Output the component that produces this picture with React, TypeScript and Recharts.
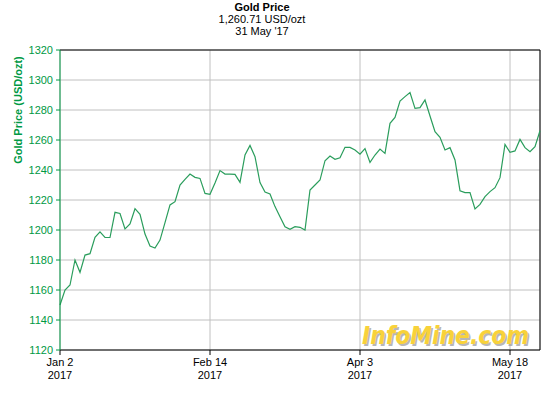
import React from 'react';
import {
    LineChart,
    Line,
    XAxis,
    YAxis,
    CartesianGrid,
    ReferenceLine
} from 'recharts';

// Daily gold price, Jan 2 2017 .. May 31 2017 (trading days)
const prices: number[] = [
    1150, 1160, 1163.3, 1180, 1171.8, 1183.3, 1184.2, 1195.1, 1198.7, 1195.1,
    1195, 1211.8, 1211, 1200.7, 1204, 1214.2, 1210.4, 1197.3, 1189.3, 1188,
    1193.3, 1204.9, 1216.7, 1218.9, 1230, 1233.8, 1237.3, 1235.1, 1234.4, 1224.4,
    1223.8, 1231.4, 1239.6, 1237.3, 1237.3, 1237.1, 1231.8, 1250, 1256.4, 1248.9,
    1231.6, 1225.3, 1224, 1215.6, 1208.9, 1202.2, 1200.4, 1202.2, 1201.8, 1200,
    1226.7, 1230, 1233.3, 1246.2, 1249.3, 1247.1, 1248.2, 1255.1, 1255.1, 1253.3,
    1250.5, 1254.3, 1245.1, 1250, 1254, 1251.1, 1271.1, 1275.1, 1286, 1288.9,
    1291.6, 1281.1, 1281.6, 1286.7, 1276, 1265.6, 1261.8, 1253.3, 1254.9, 1246.7,
    1226.2, 1224.9, 1224.9, 1214, 1217.1, 1222.2, 1225.6, 1228.2, 1234.9, 1257.1,
    1251.8, 1252.7, 1260.4, 1254.9, 1252.2, 1255.6, 1266.2
];

const tickIndexes = [0, 30, 60, 90];
const tickDates = ['Jan 2', 'Feb 14', 'Apr 3', 'May 18'];
const tickYear = '2017';
const priceTicks = [1120, 1140, 1160, 1180, 1200, 1220, 1240, 1260, 1280, 1300, 1320];

const data = prices.map((price, idx) => ({ idx, price }));

const FONT = 'Arial, "Liberation Sans", sans-serif';
const GREEN = '#009944';

const DateTick = ({ x, y, payload }: any) => {
    const pos = tickIndexes.indexOf(payload.value);
    return (
        <text x={x} y={y} textAnchor="middle" fill="#000" fontSize={11} fontFamily={FONT}>
            <tspan x={x} dy={11}>{tickDates[pos]}</tspan>
            <tspan x={x} dy={13}>{tickYear}</tspan>
        </text>
    );
};

const App: React.FC = () => {
    return (
        <div style={{ position: 'absolute', left: 0, top: 0, width: 560, height: 400, fontFamily: FONT }}>
            {/* Title block */}
            <div style={{ position: 'absolute', left: 162, top: 1, width: 200, textAlign: 'center', fontSize: 11, lineHeight: '12px', color: '#000' }}>
                <div style={{ fontWeight: 700 }}>Gold Price</div>
                <div>1,260.71 USD/ozt</div>
                <div>31 May '17</div>
            </div>

            <LineChart
                width={560}
                height={400}
                data={data}
                margin={{ top: 50, right: 20, bottom: 0, left: 0 }}
            >
                <CartesianGrid stroke="#c0c0c0" strokeWidth={1} />

                <XAxis
                    dataKey="idx"
                    type="number"
                    domain={[0, 96]}
                    ticks={tickIndexes}
                    height={50}
                    stroke="#000"
                    tickSize={5}
                    tickMargin={0}
                    tick={<DateTick />}
                    interval={0}
                />

                <YAxis
                    domain={[1120, 1320]}
                    ticks={priceTicks}
                    width={60}
                    stroke={GREEN}
                    tickSize={4}
                    tickMargin={3}
                    interval={0}
                    tick={{ fill: GREEN, fontSize: 11, fontFamily: FONT }}
                    label={{
                        content: () => (
                            <text
                                x={22}
                                y={110}
                                transform="rotate(-90 22 110)"
                                textAnchor="middle"
                                fill={GREEN}
                                fontSize={11}
                                fontWeight={700}
                                fontFamily={FONT}
                            >
                                Gold Price (USD/ozt)
                            </text>
                        )
                    }}
                />

                {/* Plot frame: top and right borders */}
                <ReferenceLine y={1320} stroke="#000" strokeWidth={1} />
                <ReferenceLine x={96} stroke="#000" strokeWidth={1} />

                <Line
                    type="linear"
                    dataKey="price"
                    stroke="#2a9d5c"
                    strokeWidth={1.2}
                    dot={false}
                    isAnimationActive={false}
                />
            </LineChart>

            {/* Watermark */}
            <svg style={{ position: 'absolute', left: 0, top: 0 }} width={560} height={400}>
                <text
                    x={362}
                    y={344}
                    textLength={167}
                    lengthAdjust="spacingAndGlyphs"
                    fontSize={24}
                    fontWeight={900}
                    fontStyle="italic"
                    fontFamily='"DejaVu Sans", sans-serif'
                    fill="#9a9a9a"
                    opacity={0.7}
                    transform="translate(1.5 1.5)"
                >
                    InfoMine.com
                </text>
                <text
                    x={362}
                    y={344}
                    textLength={167}
                    lengthAdjust="spacingAndGlyphs"
                    fontSize={24}
                    fontWeight={900}
                    fontStyle="italic"
                    fontFamily='"DejaVu Sans", sans-serif'
                    fill="#f8d23a"
                >
                    InfoMine.com
                </text>
            </svg>
        </div>
    );
};

export default App;
